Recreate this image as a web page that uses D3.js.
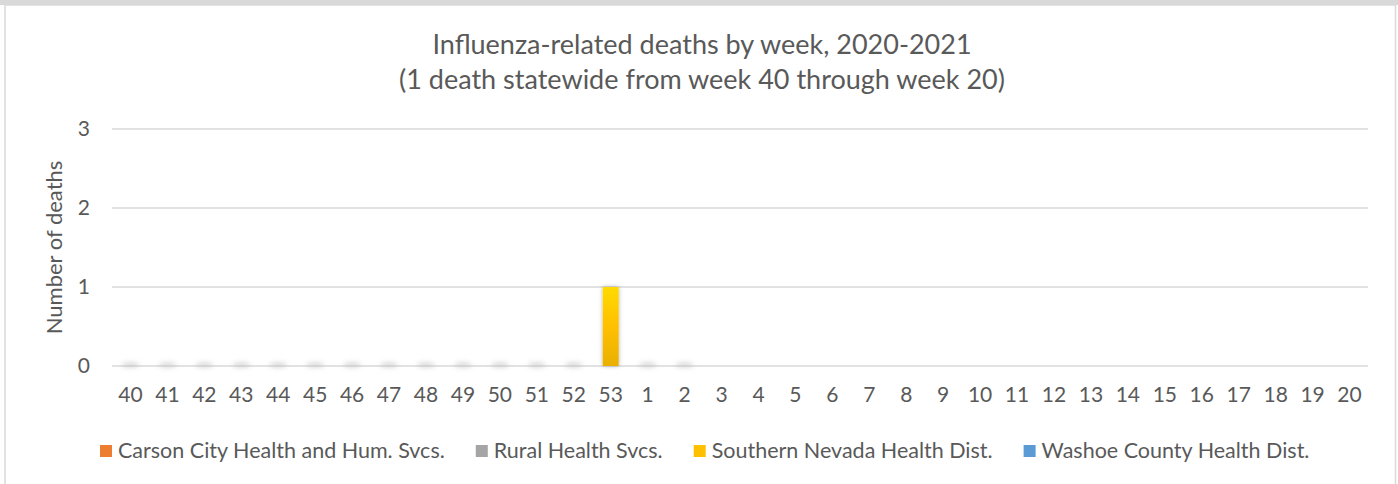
<!DOCTYPE html>
<html>
<head>
<meta charset="utf-8">
<script src="https://cdn.jsdelivr.net/npm/d3@7"></script>
<style>
  body { margin: 0; background: #fff; }
  svg { display: block; }
</style>
</head>
<body>
<div class="chart"></div>
<script>
// week labels (season 2020-2021)
const weeks = ["40","41","42","43","44","45","46","47","48","49","50","51","52","53",
  "1","2","3","4","5","6","7","8","9","10","11","12","13","14","15","16","17","18","19","20"];

// deaths per week by health district (null = not yet reported)
const carsonCity = [0,0,0,0,0,0,0,0,0,0,0,0,0,0,0,0,null,null,null,null,null,null,null,null,null,null,null,null,null,null,null,null,null,null];
const ruralHealth = [0,0,0,0,0,0,0,0,0,0,0,0,0,0,0,0,null,null,null,null,null,null,null,null,null,null,null,null,null,null,null,null,null,null];
const southernNevada = [0,0,0,0,0,0,0,0,0,0,0,0,0,1,0,0,null,null,null,null,null,null,null,null,null,null,null,null,null,null,null,null,null,null];
const washoeCounty = [0,0,0,0,0,0,0,0,0,0,0,0,0,0,0,0,null,null,null,null,null,null,null,null,null,null,null,null,null,null,null,null,null,null];

const seriesNames = ["Carson City Health and Hum. Svcs.", "Rural Health Svcs.",
  "Southern Nevada Health Dist.", "Washoe County Health Dist."];
const seriesColors = ["#ed7d31", "#a5a5a5", "#ffc000", "#5b9bd5"];
const yTicks = [0, 1, 2, 3];

const width = 1398, height = 484;
const font = "Lato, 'Open Sans', sans-serif";
const textColor = "#595959";

const table = weeks.map((w, i) => ({
  week: w,
  values: [carsonCity[i], ruralHealth[i], southernNevada[i], washoeCounty[i]]
}));

const svg = d3.select(".chart").append("svg")
  .attr("width", width).attr("height", height);

const defs = svg.append("defs");
// bar gradients, lighter on top like the original
seriesColors.forEach((c, i) => {
  const g = defs.append("linearGradient").attr("id", "grad" + i)
    .attr("x1", 0).attr("y1", 0).attr("x2", 0).attr("y2", 1);
  g.append("stop").attr("offset", "0%").attr("stop-color", d3.color(c).brighter(0.35));
  g.append("stop").attr("offset", "50%").attr("stop-color", c);
  g.append("stop").attr("offset", "100%").attr("stop-color", d3.color(c).darker(0.25));
});
const shadow = defs.append("filter").attr("id", "shadow")
  .attr("x", "-50%").attr("y", "-50%").attr("width", "200%").attr("height", "200%");
shadow.append("feDropShadow").attr("dx", 0).attr("dy", 0).attr("stdDeviation", 2)
  .attr("flood-color", "#000").attr("flood-opacity", 0.3);
const blur = defs.append("filter").attr("id", "blur")
  .attr("x", "-50%").attr("y", "-100%").attr("width", "200%").attr("height", "300%");
blur.append("feGaussianBlur").attr("stdDeviation", 2.5);

// frame
svg.append("rect").attr("x", 0).attr("y", 0).attr("width", width).attr("height", 5)
  .attr("fill", "#d9d9d9");
svg.append("rect").attr("x", 5).attr("y", 5).attr("width", width - 7.5).attr("height", height)
  .attr("fill", "#fff").attr("stroke", "#d9d9d9").attr("stroke-width", 1.5);

const margin = { top: 129, right: 30, bottom: 118, left: 112 };

const xScale = d3.scaleBand()
  .domain(weeks)
  .range([margin.left, width - margin.right]);
const yScale = d3.scaleLinear()
  .domain([0, 3])
  .range([height - margin.bottom, margin.top]);

// gridlines
svg.append("g")
  .selectAll("line")
  .data(yTicks)
  .join("line")
  .attr("x1", margin.left).attr("x2", width - margin.right)
  .attr("y1", d => yScale(d)).attr("y2", d => yScale(d))
  .attr("stroke", "#d9d9d9").attr("stroke-width", 1.5);

// y axis labels
const yAxis = d3.axisLeft(yScale).tickValues(yTicks).tickFormat(d3.format("d"))
  .tickSize(0).tickPadding(22);
svg.append("g")
  .attr("transform", `translate(${margin.left},0)`)
  .call(yAxis)
  .call(g => g.select(".domain").remove())
  .selectAll("text")
  .style("font-family", font).style("font-size", "21px").attr("fill", textColor);

// x axis labels
const xAxis = d3.axisBottom(xScale).tickSize(0).tickPadding(21);
svg.append("g")
  .attr("transform", `translate(0,${yScale(0)})`)
  .call(xAxis)
  .call(g => g.select(".domain").remove())
  .selectAll("text")
  .style("font-family", font).style("font-size", "21px").attr("fill", textColor);

// bars: stacked per week
const barW = 16;
const weekGroups = svg.append("g").selectAll("g")
  .data(table)
  .join("g")
  .attr("transform", d => `translate(${xScale(d.week) + xScale.bandwidth() / 2 - barW / 2},0)`);

// faint shadow for zero-height bars
weekGroups.filter(d => d.values.some(v => v !== null) && d3.sum(d.values) === 0)
  .append("ellipse")
  .attr("cx", barW / 2).attr("cy", yScale(0) - 1)
  .attr("rx", barW / 2 + 1).attr("ry", 2.5)
  .attr("fill", "#bbb").attr("opacity", 0.6)
  .attr("filter", "url(#blur)");

weekGroups.each(function(d) {
  let acc = 0;
  d.values.forEach((v, i) => {
    if (!v) return;
    d3.select(this).append("rect")
      .attr("x", 0).attr("width", barW)
      .attr("y", yScale(acc + v)).attr("height", yScale(acc) - yScale(acc + v))
      .attr("fill", `url(#grad${i})`)
      .attr("filter", "url(#shadow)");
    acc += v;
  });
});

// titles
svg.append("text")
  .attr("x", 702).attr("y", 54)
  .attr("text-anchor", "middle")
  .style("font-family", font).style("font-size", "27px").attr("fill", textColor)
  .text("Influenza-related deaths by week, 2020-2021");
svg.append("text")
  .attr("x", 702).attr("y", 89)
  .attr("text-anchor", "middle")
  .style("font-family", font).style("font-size", "27px").attr("fill", textColor)
  .text("(1 death statewide from week 40 through week 20)");

// y axis title
svg.append("text")
  .attr("transform", `translate(62,${(yScale(0) + yScale(3)) / 2}) rotate(-90)`)
  .attr("text-anchor", "middle")
  .style("font-family", font).style("font-size", "22px").attr("fill", textColor)
  .text("Number of deaths");

// legend
const legend = svg.append("g").attr("transform", "translate(0,451)");
let lx = 100;
seriesNames.forEach((name, i) => {
  const item = legend.append("g").attr("transform", `translate(${lx},0)`);
  item.append("rect").attr("x", 0).attr("y", -6).attr("width", 12).attr("height", 12)
    .attr("fill", seriesColors[i]);
  const t = item.append("text").attr("x", 18).attr("y", 7)
    .style("font-family", font).style("font-size", "21.5px").attr("fill", textColor)
    .text(name);
  lx += 18 + t.node().getComputedTextLength() + 31;
});
</script>
</body>
</html>
